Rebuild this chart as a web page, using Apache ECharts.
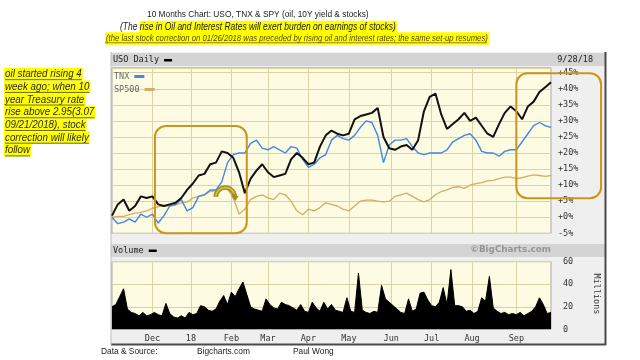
<!DOCTYPE html>
<html><head><meta charset="utf-8">
<script src="https://cdn.jsdelivr.net/npm/echarts@6/dist/echarts.min.js"></script>
<style>html,body{margin:0;padding:0;background:#fff}#c{width:640px;height:360px}</style>
</head><body><div id="c"></div>
<script>
// ---- data ----
const tradingDays = 229;            // 11/01/2017 .. 09/28/2018
const monthStartIdx = [21, 41, 62, 81, 102, 123, 145, 166, 187, 210];
const monthLabels = ['Dec', '18', 'Feb', 'Mar', 'Apr', 'May', 'Jun', 'Jul', 'Aug', 'Sep'];
const lineStep = 3;                 // one sample every 3 trading days
const volStep = 2;                  // one sample every 2 trading days
const usoPct = [0.5,4,5.5,2,3.5,6.5,6,6.5,4,3.5,4,4.5,6,8.5,10.5,13,13.5,16.5,17,20.5,20,18.5,14,7.5,12,14.5,16.5,14,12.5,13,13.5,18,20,18.5,16.5,17,22,25.5,27,26,25.5,26,30.5,31.5,32,32.5,34,25,21.5,21,22,22.5,21,24,33,37.5,38.5,32,27.5,29,30.5,32.5,30,31,28.5,26,25,29,32.5,34.5,33,30.5,34.5,36,39,40.5,42];
const tnxPct = [0,-2,-1.5,-0.5,-1.5,1,0,1,-1.8,0.5,3.5,4,5.5,2,3,6.5,7,8.5,8.5,11,17,19.5,20,20,23,24,21.5,21,22,21,20,22,21.5,18,15.5,16.5,18.5,19.5,24,25.5,24.5,24,25.5,28,30,29.5,25.5,17,22.5,24,24,24.5,22,20,19.5,20,20,20,21,23.5,24.5,25.5,26,24,20.5,20,20,19,20.5,21,21,23.5,26,28.5,29.5,28.5,28];
const sp500Pct = [0,0.3,0.3,0.8,1.3,1.5,2,2.8,3.3,3.5,3.5,3.8,4.5,4.7,6,6.5,7,8,8.3,9,8.8,6,1,2.5,5.5,6.5,7,6,5.5,7.5,7,5,2,0.8,2.5,2,3,4.5,4,3.5,2.5,2,3.5,5,5.3,5.3,5,4.8,5,6.5,7,7.5,6.5,5.5,4.8,5.5,7,8,8.5,9.3,9.5,9,10,10.5,10.8,11.3,11.5,12,12.5,12.5,12,12.3,12.8,13.2,13,12.7,13];
const volumeM = [20,22,29,36,18,15,14,12,15,12,13,15,13,12,23,14,11,10,12,10,15,13,14,21,20,17,16,18,25,30,22,33,29,36,42,31,20,18,17,16,27,22,19,18,24,22,21,19,17,22,16,15,24,19,16,24,18,22,17,16,15,28,16,15,50,17,15,14,16,15,39,27,24,21,18,15,14,27,16,18,32,33,26,21,20,24,37,22,53,21,21,20,16,17,14,16,28,25,47,19,16,14,15,13,14,13,15,12,14,16,20,28,22,14,15];

// ---- helpers ----
const dayIndex = Array.from({length: tradingDays}, (_, i) => String(i));
const monthMap = {};
monthStartIdx.forEach((d, i) => { monthMap[d] = monthLabels[i]; });
const isMonth = (i) => monthMap[i] !== undefined;
const toPairs = (arr, step) => arr.map((v, k) => [k * step, v]);

const MONO = '"DejaVu Sans Mono", monospace';
const NARROW = '"Liberation Sans Narrow", "Liberation Sans", sans-serif';
const gridCol = '#d9d3a6';
const legendText = {fontFamily: MONO, fontSize: 8.5, color: '#6a6a6a'};

const chart = echarts.init(document.getElementById('c'), null, {renderer: 'canvas'});

chart.setOption({
  animation: false,
  backgroundColor: '#ffffff',
  legend: [
    {data: ['TNX'], orient: 'vertical', left: 114, top: 72, padding: 0, align: 'right', icon: 'rect',
     itemWidth: 10, itemHeight: 3, selectedMode: false, textStyle: legendText},
    {data: ['SP500'], orient: 'vertical', left: 114, top: 85, padding: 0, align: 'right', icon: 'rect',
     itemWidth: 10, itemHeight: 3, selectedMode: false, textStyle: legendText}
  ],
  grid: [
    {left: 112, top: 67.9, width: 439, height: 165.4, show: true, backgroundColor: '#fdfbe1', borderColor: '#a9a9a9', borderWidth: 1},
    {left: 112, top: 261.7, width: 439, height: 67.6, show: true, backgroundColor: '#fdfbe1', borderColor: '#a9a9a9', borderWidth: 1}
  ],
  xAxis: [
    {type: 'category', gridIndex: 0, data: dayIndex, boundaryGap: false,
     axisLine: {show: false}, axisTick: {show: false}, axisLabel: {show: false},
     splitLine: {show: true, interval: (i) => isMonth(i), lineStyle: {color: gridCol, width: 1}}},
    {type: 'category', gridIndex: 1, data: dayIndex, boundaryGap: false,
     axisLine: {show: false}, axisTick: {show: false},
     axisLabel: {show: true, interval: (i) => isMonth(i), formatter: (v, i) => monthMap[i] || '',
                 fontFamily: MONO, fontSize: 8.5, color: '#333', margin: 5},
     splitLine: {show: true, interval: (i) => isMonth(i), lineStyle: {color: gridCol, width: 1}}}
  ],
  yAxis: [
    {type: 'value', gridIndex: 0, min: -5, max: 46.5, interval: 5, position: 'right',
     axisLine: {show: false}, axisTick: {show: false},
     axisLabel: {formatter: (v) => (Math.abs(v % 5) > 1e-6) ? '' : ((v >= 0 ? '+' : '') + v + '%'),
                 fontFamily: MONO, fontSize: 8.5, color: '#333', margin: 7, align: 'left'},
     splitLine: {lineStyle: {color: gridCol, width: 1}}},
    {type: 'value', gridIndex: 1, min: 0, max: 60, interval: 20, position: 'right',
     axisLine: {show: false}, axisTick: {show: false},
     axisLabel: {fontFamily: MONO, fontSize: 8.5, color: '#333', margin: 12, align: 'left'},
     splitLine: {lineStyle: {color: gridCol, width: 1}}}
  ],
  series: [
    {name: 'SP500', type: 'line', xAxisIndex: 0, yAxisIndex: 0, data: toPairs(sp500Pct, lineStep),
     showSymbol: false, symbol: 'none', color: '#d9aa66', lineStyle: {width: 1.3, color: '#d9aa66'}, z: 3},
    {name: 'TNX', type: 'line', xAxisIndex: 0, yAxisIndex: 0, data: toPairs(tnxPct, lineStep),
     showSymbol: false, symbol: 'none', color: '#3f88e6', lineStyle: {width: 1.4, color: '#3f88e6'}, z: 4},
    {name: 'USO', type: 'line', xAxisIndex: 0, yAxisIndex: 0, data: toPairs(usoPct, lineStep),
     showSymbol: false, symbol: 'none', color: '#111', lineStyle: {width: 2, color: '#111'}, z: 5},
    {name: 'Volume', type: 'line', xAxisIndex: 1, yAxisIndex: 1, data: toPairs(volumeM, volStep),
     showSymbol: false, symbol: 'none', color: '#000', lineStyle: {width: 1, color: '#000'},
     areaStyle: {color: '#000', opacity: 1}, z: 3}
  ]
});

// ---- annotations & frame ----
const mctx = document.createElement('canvas').getContext('2d');
function fit(text, tpl, target) { mctx.font = tpl(10); return 10 * target / mctx.measureText(text).width; }
function width(text, font) { mctx.font = font; return mctx.measureText(text).width; }

const p0 = chart.convertToPixel({gridIndex: 0}, [0, -5]);
const p1 = chart.convertToPixel({gridIndex: 0}, [228, 45]);
const px = (d) => p0[0] + (p1[0] - p0[0]) * d / 228;
const py = (v) => p0[1] + (p1[1] - p0[1]) * (v + 5) / 50;

const g = [];
// panel frame
g.push({type: 'rect', z: -20, silent: true, shape: {x: 111, y: 52, width: 494, height: 292}, style: {fill: '#efefef'}});
g.push({type: 'rect', z: -19, silent: true, shape: {x: 111, y: 53, width: 494, height: 13}, style: {fill: '#d4d4d4'}});
g.push({type: 'rect', z: -19, silent: true, shape: {x: 111, y: 244, width: 494, height: 13}, style: {fill: '#d4d4d4'}});
g.push({type: 'line', z: -18, silent: true, shape: {x1: 605.5, y1: 52, x2: 605.5, y2: 345}, style: {stroke: '#4a4a4a', lineWidth: 2}});
g.push({type: 'line', z: -18, silent: true, shape: {x1: 111, y1: 344.5, x2: 606, y2: 344.5}, style: {stroke: '#4a4a4a', lineWidth: 2}});
g.push({type: 'line', z: -18, silent: true, shape: {x1: 111, y1: 52, x2: 111, y2: 345}, style: {stroke: '#bdbdbd', lineWidth: 1}});
// header texts
const hdrFont = '8.5px ' + MONO;
g.push({type: 'text', z: 10, style: {text: 'USO Daily', x: 113, y: 60, font: hdrFont, fill: '#222', verticalAlign: 'middle'}});
const wU = width('USO Daily', hdrFont);
g.push({type: 'rect', z: 10, shape: {x: 113 + wU + 5, y: 59, width: 8, height: 2.5}, style: {fill: '#000'}});
g.push({type: 'text', z: 10, style: {text: '9/28/18', x: 593, y: 60, font: hdrFont, fill: '#222', align: 'right', verticalAlign: 'middle'}});
g.push({type: 'text', z: 10, style: {text: 'Volume', x: 113, y: 250.5, font: hdrFont, fill: '#222', verticalAlign: 'middle'}});
const wV = width('Volume', hdrFont);
g.push({type: 'rect', z: 10, shape: {x: 113 + wV + 5, y: 249.5, width: 8, height: 2.5}, style: {fill: '#000'}});
const bcTpl = (s) => 'bold ' + s + 'px "DejaVu Sans", sans-serif';
const bcTxt = '\u00A9BigCharts.com';
g.push({type: 'text', z: 10, style: {text: bcTxt, x: 551, y: 250, font: bcTpl(fit(bcTxt, bcTpl, 81)), fill: '#959595', align: 'right', verticalAlign: 'middle'}});
g.push({type: 'text', z: 10, rotation: -Math.PI / 2, x: 596, y: 294, style: {text: 'Millions', x: 0, y: 0, font: hdrFont, fill: '#333', align: 'center', verticalAlign: 'middle'}});

// title lines (slightly stretched vertically to match the taller original face)
const normTpl = (s) => s + 'px ' + NARROW;
const itTpl = (s) => 'italic ' + s + 'px ' + NARROW;
const SY = 1.18;
const t1 = '10 Months Chart: USO, TNX & SPY (oil, 10Y yield & stocks)';
g.push({type: 'text', z: 10, x: 147, y: 14, scaleY: SY, style: {text: t1, x: 0, y: 0, font: normTpl(fit(t1, normTpl, 222)), fill: '#1a1a1a', verticalAlign: 'middle'}});
const t2a = '(The ', t2b = 'rise in Oil and Interest Rates will exert burden on earnings of stocks)';
const s2 = fit(t2a + t2b, itTpl, 276);
const w2a = width(t2a, itTpl(s2));
g.push({type: 'text', z: 10, x: 120, y: 27, scaleY: SY, style: {text: t2a, x: 0, y: 0, font: itTpl(s2), fill: '#1a1a1a', verticalAlign: 'middle'}});
g.push({type: 'text', z: 10, x: 120 + w2a, y: 27, scaleY: SY, style: {text: t2b, x: 0, y: 0, font: itTpl(s2), fill: '#1a1a1a', verticalAlign: 'middle', backgroundColor: '#ffff00', padding: [1.5, 1, 1, 0]}});
const t3 = '(the last stock correction on 01/26/2018 was preceded by rising oil and interest rates; the same set-up resumes)';
const s3 = fit(t3, itTpl, 382);
g.push({type: 'text', z: 10, x: 105, y: 38.5, scaleY: SY, style: {text: t3, x: 0, y: 0, font: itTpl(s3), fill: '#5a4800', verticalAlign: 'middle', backgroundColor: '#ffff00', padding: [1.5, 1, 1, 1]}});
g.push({type: 'line', z: 11, shape: {x1: 105, y1: 38.5 + s3 * 0.55, x2: 105 + width(t3, itTpl(s3)), y2: 38.5 + s3 * 0.55}, style: {stroke: '#6a5a10', lineWidth: 0.7}});

// side note
const note = ['oil started rising 4', 'week ago; when 10', 'year Treasury rate', 'rise above 2.95(3.07', '09/21/2018), stock', 'correction will likely', 'follow'];
const sn = fit('correction will likely', itTpl, 84);
note.forEach((ln, i) => {
  const y = 74 + i * 12.7;
  const w = width(ln, itTpl(sn));
  g.push({type: 'rect', z: 9, shape: {x: 4, y: y - 6.3, width: w + 2, height: 12.6}, style: {fill: '#ffff00'}});
  g.push({type: 'text', z: 10, x: 5, y: y, scaleY: SY, style: {text: ln, x: 0, y: 0, font: itTpl(sn), fill: '#2a2a2a', verticalAlign: 'middle'}});
  g.push({type: 'line', z: 11, shape: {x1: 5, y1: y + sn * 0.58, x2: 5 + w, y2: y + sn * 0.58}, style: {stroke: '#2a2a2a', lineWidth: 0.7}});
});

// footer
const fTpl = (s) => s + 'px ' + NARROW;
const fs = fit('Bigcharts.com', fTpl, 53);
g.push({type: 'text', z: 10, x: 101, y: 351.5, scaleY: SY, style: {text: 'Data & Source:', x: 0, y: 0, font: fTpl(fs), fill: '#222', verticalAlign: 'middle'}});
g.push({type: 'text', z: 10, x: 197, y: 351.5, scaleY: SY, style: {text: 'Bigcharts.com', x: 0, y: 0, font: fTpl(fs), fill: '#222', verticalAlign: 'middle'}});
g.push({type: 'text', z: 10, x: 293, y: 351.5, scaleY: SY, style: {text: 'Paul Wong', x: 0, y: 0, font: fTpl(fs), fill: '#222', verticalAlign: 'middle'}});

// highlight boxes
const boxCol = '#c9961c';
const bx1 = px(22.3), bx2 = px(70), by1 = py(28.4), by2 = py(-5);
g.push({type: 'rect', z: 50, shape: {x: bx1, y: by1, width: bx2 - bx1, height: by2 - by1, r: 11}, style: {fill: null, stroke: boxCol, lineWidth: 2}});
const cx1 = px(210), cx2 = px(254), cy1 = py(44.8), cy2 = py(5.9);
g.push({type: 'rect', z: 50, shape: {x: cx1, y: cy1, width: cx2 - cx1, height: cy2 - cy1, r: 11}, style: {fill: null, stroke: boxCol, lineWidth: 2}});
// arch with arrow (top of Jan 2018)
const ax = px(58.8), ay = py(6.3);
g.push({type: 'arc', z: 51, shape: {cx: ax, cy: ay, r: 9.5, startAngle: Math.PI, endAngle: Math.PI * 2, clockwise: true}, style: {stroke: '#a38f22', lineWidth: 4.5, fill: null}});
g.push({type: 'arc', z: 52, shape: {cx: ax, cy: ay, r: 9.5, startAngle: Math.PI, endAngle: Math.PI * 1.9, clockwise: true}, style: {stroke: '#d8c448', lineWidth: 1.5, fill: null}});
g.push({type: 'polygon', z: 52, shape: {points: [[ax + 6, ay - 1], [ax + 13.5, ay - 1], [ax + 10, ay + 4]]}, style: {fill: '#a38f22'}});

chart.setOption({graphic: g});
</script></body></html>
